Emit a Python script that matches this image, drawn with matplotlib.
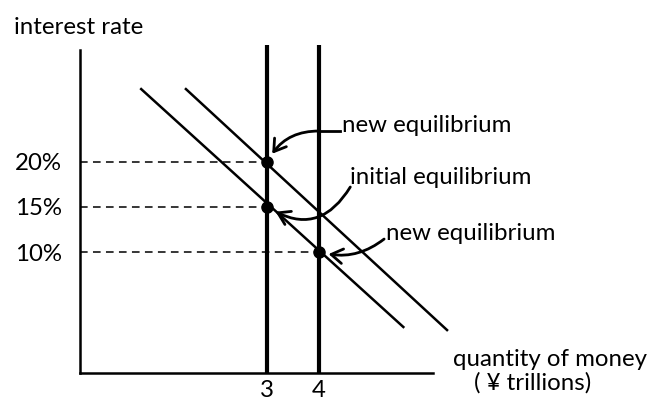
import matplotlib
matplotlib.use("Agg")
import matplotlib.pyplot as plt

# Money market: fixed money supply at 3 and 4 trillion yen, two demand lines
supply_q = [3, 4]
supply_labels = ["3", "4"]
rate_ticks = [10, 15, 20]
rate_labels = ["10%", "15%", "20%"]

# demand lines given by their two end points (quantity, rate)
demand_low_q = [0.58, 5.62]
demand_low_r = [28.1, 1.67]
demand_high_q = [1.44, 6.46]
demand_high_r = [28.1, 1.33]

# equilibrium points
eq_q = [3, 3, 4]
eq_r = [20, 15, 10]

plt.rcParams['font.family'] = ['Lato', 'DejaVu Sans']
FS = 17.3

fig = plt.figure(figsize=(6.52, 4.03), dpi=100)
ax = fig.add_axes([80 / 652, 30 / 403, 353 / 652, 323 / 403])
ax.set_xlim(-0.596, 6.19)
ax.set_ylim(-3.44, 32.44)

for side in ["top", "right"]:
    ax.spines[side].set_visible(False)
for side in ["left", "bottom"]:
    ax.spines[side].set_linewidth(1.8)

ax.set_xticks(supply_q)
ax.set_xticklabels(supply_labels, fontsize=FS)
ax.set_yticks(rate_ticks)
ax.set_yticklabels(rate_labels, fontsize=FS)
ax.tick_params(axis="both", length=0)
ax.tick_params(axis="y", pad=13)
ax.tick_params(axis="x", pad=5)

# vertical money supply lines
for q in supply_q:
    ax.plot([q, q], [-3.44, 33.0], color="black", lw=3.0, clip_on=False,
            solid_capstyle="butt")

# demand lines
ax.plot(demand_low_q, demand_low_r, color="black", lw=1.8, clip_on=False)
ax.plot(demand_high_q, demand_high_r, color="black", lw=1.8, clip_on=False)

# dashed guides from the rate axis to each equilibrium
for q, r in zip(eq_q, eq_r):
    ax.plot([-0.596, q], [r, r], color="black", lw=1.1, ls=(0, (5, 3.5)))
ax.plot(eq_q, eq_r, "o", color="black", markersize=8, zorder=5)

arrow_kw = dict(arrowstyle="->,head_length=0.55,head_width=0.35",
                color="black", lw=2, mutation_scale=15, shrinkA=0, shrinkB=7)

# new equilibrium (upper)
ax.plot([4.4, 4.0], [23.44, 23.44], color="black", lw=2)
ax.annotate("", xy=(3, 20), xytext=(4.0, 23.44),
            arrowprops=dict(connectionstyle="arc3,rad=0.3", **arrow_kw))
ax.text(4.44, 24.1, "new equilibrium", fontsize=FS, va="center", ha="left")

# initial equilibrium
ax.annotate("", xy=(3, 15), xytext=(4.6, 17.22),
            arrowprops=dict(connectionstyle="arc3,rad=-0.5", **arrow_kw))
ax.text(4.6, 18.33, "initial equilibrium", fontsize=FS, va="center", ha="left")

# new equilibrium (lower)
ax.annotate("", xy=(4, 10), xytext=(5.25, 11.44),
            arrowprops=dict(connectionstyle="arc3,rad=-0.25", **arrow_kw))
ax.text(5.29, 12.1, "new equilibrium", fontsize=FS, va="center", ha="left")

# axis titles
fig.text(14 / 652, 1 - 27 / 403, "interest rate", fontsize=FS, va="center", ha="left")
fig.text(550 / 652, 1 - 359 / 403, "quantity of money", fontsize=FS, va="center", ha="center")
fig.text(533 / 652, 1 - 383 / 403, "( ¥ trillions)", fontsize=FS, va="center", ha="center")

fig.savefig("out.png", dpi=100)
